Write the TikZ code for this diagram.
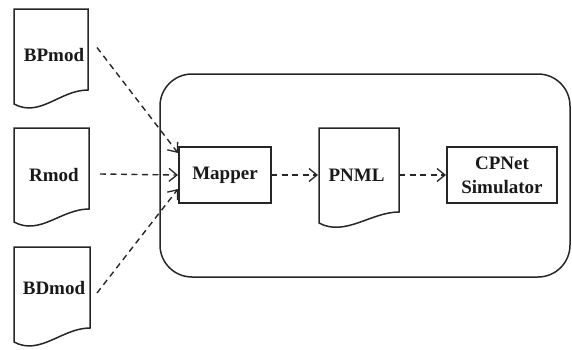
\documentclass[tikz,border=0pt]{standalone}
\usepackage{fontspec}
\setmainfont{Liberation Serif}
\usetikzlibrary{arrows.meta,calc}

% Outline of a "document" symbol: a box whose lower edge is a wave.
% #1 = node holding the upper (rectangular) part, #2 = drop of the lower-left corner
\newcommand\docpath[2]{%
  \draw[outline] (#1.north west) -- (#1.north east) -- (#1.south east)
    .. controls +(-28,0) and +(26,14) .. ($(#1.south west)+(0,#2)$) -- cycle;}

\begin{document}
\begin{tikzpicture}[x=1pt,y=-1pt,
  outline/.style={draw=black!85,line width=1.5pt},
  body/.style={rectangle,inner sep=0pt,outer sep=0pt},
  proc/.style={body,outline},
  lbl/.style={font=\fontsize{19}{24}\selectfont\bfseries,inner sep=0pt,text=black!90,align=center},
  flow/.style={draw=black!85,line width=1.4pt,dash pattern=on 6pt off 4.5pt,
    -{Straight Barb[length=8pt,width=13pt,line width=1.3pt]}},
]
\useasboundingbox (0,0) rectangle (572,349);

% enclosing system frame
\node[proc,rounded corners=32pt,minimum width=410pt,minimum height=203pt] (frame) at (365,175.5) {};

% input model documents
\node[body,minimum width=74pt,minimum height=81pt] (bp) at (51,49.5) {};
\node[body,minimum width=75pt,minimum height=81pt] (r)  at (51.5,168.5) {};
\node[body,minimum width=76pt,minimum height=81pt] (bd) at (52,287.5) {};
\docpath{bp}{14}
\docpath{r}{13}
\docpath{bd}{14}
\node[lbl] (bpl) at (54,54.5) {BPmod};
\node[lbl] (rl)  at (54,175) {Rmod};
\node[lbl] (bdl) at (54,288) {BDmod};

% processing chain
\node[proc,minimum width=92pt,minimum height=56pt] (map) at (225,175) {};
\node[lbl] at (map) {Mapper};
\node[body,minimum width=80pt,minimum height=84pt] (pn) at (359,170) {};
\docpath{pn}{11}
\node[lbl] (pnl) at (356.5,175) {PNML};
\node[proc,minimum width=110pt,minimum height=56pt] (cp) at (502,175) {};
\node[lbl] at (cp) {CPNet\\Simulator};

% connectors
\draw[flow] ($(bp.east)+(9,-2)$) -- ($(map.west)+(-1,-22)$);
\draw[flow] ($(r.east)+(11,5.5)$) -- ($(map.west)+(-1,0)$);
\draw[flow] ($(bd.east)+(7,5.5)$) -- ($(map.west)+(-1,14)$);
\draw[flow] (map.east) -- ($(map.east -| pn.west)+(-1,0)$);
\draw[flow] (map.east -| pn.east) -- ($(cp.west)+(-1,0)$);
\end{tikzpicture}
\end{document}
